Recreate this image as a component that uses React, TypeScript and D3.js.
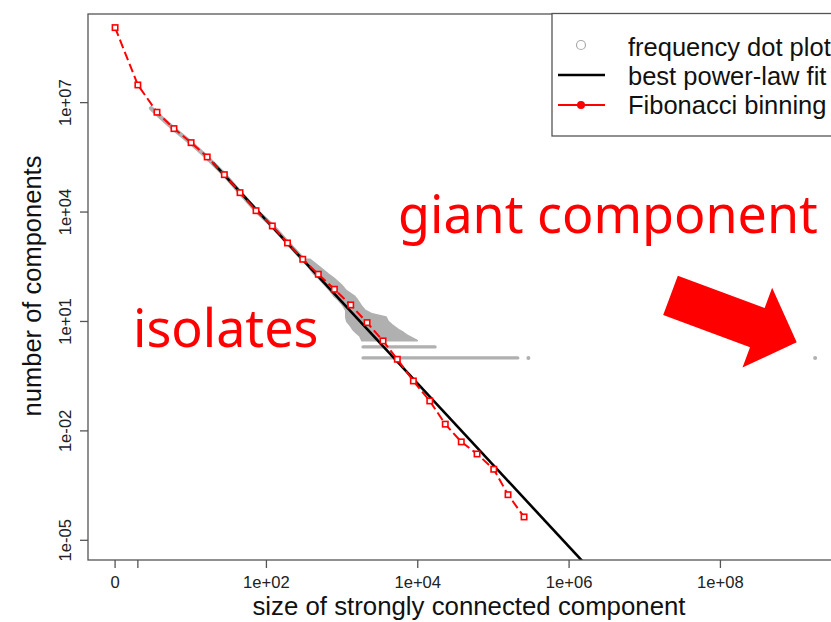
import React from 'react';
import * as d3 from 'd3';

// ---------- data ----------
const xTicks = [1, 2, 1e2, 1e4, 1e6, 1e8];
const xTickLabels = ['0', '', '1e+02', '1e+04', '1e+06', '1e+08'];
const yTicks = [1e-5, 1e-2, 1e1, 1e4, 1e7];
const yTickLabels = ['1e-05', '1e-02', '1e+01', '1e+04', '1e+07'];

// Fibonacci binning series
const fibSizes = [1, 2, 3.58, 6.0, 10.1, 16.5, 27.8, 44.8, 72.9, 119.7, 190, 302, 485, 791, 1300, 2138, 3477, 5370, 8750, 14420, 23100, 37600, 60800, 101000, 156000, 254000];
const fibCounts = [1.14e9, 3.05e7, 5.46e6, 1.94e6, 8.0e5, 3.24e5, 1.06e5, 3.4e4, 1.09e4, 4160, 1420, 508, 197, 76.4, 28.4, 9.3, 2.93, 0.92, 0.234, 0.0662, 0.0153, 0.005, 0.00233, 0.000887, 0.000178, 4.37e-5];

// frequency dots along the diagonal (small sizes)
const freqDiagSizes = [3, 4, 6, 10, 16, 28, 45, 73, 120, 190, 300];
const freqDiagCounts = [7e6, 4e6, 1.9e6, 8e5, 3.3e5, 1.05e5, 3.4e4, 1.1e4, 4200, 1450, 520];

// frequency dot blob: per count level, smallest and largest size observed
const blobCounts = [3, 4, 5, 6, 8, 10, 13, 16, 20, 25, 30, 40, 50, 70, 100, 150, 200, 300, 500];
const blobMinSizes = [1836, 1727, 1528, 1395, 1273, 1161, 1127, 1127, 1127, 1062, 1000, 885, 783, 693, 595, 496, 426, 366, 296];
const blobMaxSizes = [9790, 7450, 6395, 5495, 4575, 4048, 3808, 2489, 2011, 1836, 1727, 1574, 1439, 1127, 975, 783, 652, 512, 377];

// frequency dot rows for counts 1 and 2
const rowCounts = [1, 2];
const rowMinSizes = [1892, 1892];
const rowMaxSizes = [209900, 16940];

// isolated frequency dots (incl. the giant component)
const straySizes = [289700, 1.786e9];
const strayCounts = [1, 1];

// best power-law fit endpoints
const fitSizes = [19.7, 2e6];
const fitCounts = [2.22e5, 1.41e-6];

const legendLabels = ['frequency dot plot', 'best power-law fit', 'Fibonacci binning'];

// ---------- layout ----------
const W = 831, H = 622;
const left = 88, top = 14, bottom = 560, right = 843;

export default function App() {
  const x = d3.scaleLog().domain([Math.pow(10, -0.358), Math.pow(10, 9.62)]).range([left, right]);
  const y = d3.scaleLog().domain([Math.pow(10, -5.54), Math.pow(10, 9.43)]).range([bottom, top]);

  const lineGen = d3.line<[number, number]>().x(d => x(d[0])).y(d => y(d[1]));
  const fibPts: [number, number][] = fibSizes.map((s, i) => [s, fibCounts[i]]);
  const diagPts: [number, number][] = freqDiagSizes.map((s, i) => [s, freqDiagCounts[i]]);
  const fitPts: [number, number][] = fitSizes.map((s, i) => [s, fitCounts[i]]);

  const blobArea = d3.area<number>()
    .y(i => y(blobCounts[i]))
    .x0(i => x(blobMinSizes[i]))
    .x1(i => x(blobMaxSizes[i]));

  // arrow annotation
  const arrowStart = [670.5, 295.4], arrowTip = [796.7, 342.3];
  const shaftW = 42, headW = 85, headL = 42;
  const dx = arrowTip[0] - arrowStart[0], dy = arrowTip[1] - arrowStart[1];
  const len = Math.hypot(dx, dy);
  const ux = dx / len, uy = dy / len, nx = -uy, ny = ux;
  const P = (a: number, b: number) => `${arrowStart[0] + ux * a + nx * b},${arrowStart[1] + uy * a + ny * b}`;
  const arrowPoly = [
    P(0, -shaftW / 2), P(len - headL, -shaftW / 2), P(len - headL, -headW / 2),
    P(len, 0), P(len - headL, headW / 2), P(len - headL, shaftW / 2), P(0, shaftW / 2)
  ].join(' ');

  const gray = '#b0b0b0';
  const axisFont = 'Liberation Sans, Arial, sans-serif';

  return (
    <svg width={W} height={H} style={{ position: 'absolute', left: 0, top: 0, background: '#fff' }}>
      <defs>
        <clipPath id="plotClip">
          <rect x={left} y={top} width={right - left} height={bottom - top} />
        </clipPath>
      </defs>
      <rect x={0} y={0} width={W} height={H} fill="#fff" />
      <g clipPath="url(#plotClip)">
        {/* frequency dots */}
        <path d={blobArea(d3.range(blobCounts.length)) || ''} fill={gray} stroke={gray} strokeWidth={2} strokeLinejoin="round" />
        <path d={lineGen(diagPts) || ''} fill="none" stroke={gray} strokeWidth={4.5} strokeLinecap="round" />
        {rowCounts.map((c, i) => (
          <line key={i} x1={x(rowMinSizes[i])} x2={x(rowMaxSizes[i])} y1={y(c)} y2={y(c)} stroke={gray} strokeWidth={3.3} strokeLinecap="round" />
        ))}
        {straySizes.map((s, i) => (
          <circle key={i} cx={x(s)} cy={y(strayCounts[i])} r={2} fill={gray} />
        ))}
        {/* power-law fit */}
        <path d={lineGen(fitPts) || ''} fill="none" stroke="#000" strokeWidth={2.6} />
        {/* Fibonacci binning */}
        <path d={lineGen(fibPts) || ''} fill="none" stroke="#f00" strokeWidth={2} strokeDasharray="9,4" />
        {fibPts.map((d, i) => (
          <rect key={i} x={x(d[0]) - 2.7} y={y(d[1]) - 2.7} width={5.4} height={5.4} fill="#fff" stroke="#f00" strokeWidth={1.6} />
        ))}
      </g>
      {/* frame */}
      <rect x={left} y={top} width={right - left} height={bottom - top} fill="none" stroke="#555" strokeWidth={1.3} />
      {/* x axis */}
      {xTicks.map((t, i) => (
        <g key={i}>
          <line x1={x(t)} x2={x(t)} y1={bottom} y2={bottom + 8} stroke="#555" strokeWidth={1.3} />
          <text x={x(t)} y={588} textAnchor="middle" fontFamily={axisFont} fontSize={16.6} fill="#222">{xTickLabels[i]}</text>
        </g>
      ))}
      {/* y axis */}
      {yTicks.map((t, i) => (
        <g key={i}>
          <line x1={left - 8} x2={left} y1={y(t)} y2={y(t)} stroke="#555" strokeWidth={1.3} />
          <text transform={`translate(70.7,${y(t)}) rotate(-90)`} textAnchor="middle" fontFamily={axisFont} fontSize={16.6} fill="#222">{yTickLabels[i]}</text>
        </g>
      ))}
      <text x={469} y={615} textAnchor="middle" fontFamily={axisFont} fontSize={25.8} fill="#111">size of strongly connected component</text>
      <text transform={`translate(40.5,286) rotate(-90)`} textAnchor="middle" fontFamily={axisFont} fontSize={25.5} fill="#111">number of components</text>

      {/* legend */}
      <rect x={552} y={13.5} width={320} height={122.5} fill="#fff" stroke="#555" strokeWidth={1.3} />
      <circle cx={581} cy={45} r={4.5} fill="none" stroke="#aaa" strokeWidth={1.2} />
      <line x1={558} x2={605} y1={75} y2={75} stroke="#000" strokeWidth={2.6} />
      <line x1={558} x2={605} y1={105} y2={105} stroke="#f00" strokeWidth={2} />
      <circle cx={581} cy={105} r={4} fill="#f00" />
      {legendLabels.map((l, i) => (
        <text key={i} x={628} y={56 + i * 29.2} fontFamily={axisFont} fontSize={25.5} fill="#111">{l}</text>
      ))}

      {/* annotations */}
      <text x={398} y={233} fontFamily="Noto Sans, sans-serif" fontSize={52} fill="#f00">giant component</text>
      <text x={133} y={346.5} fontFamily="Noto Sans, sans-serif" fontSize={52} fill="#f00">isolates</text>
      <polygon points={arrowPoly} fill="#f00" />
    </svg>
  );
}
